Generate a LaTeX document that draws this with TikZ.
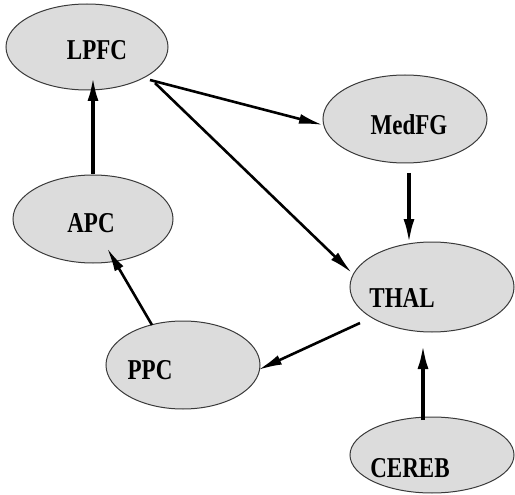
\documentclass[tikz,border=0pt]{standalone}
\usepackage{fontspec}
\usepackage{graphicx}
\setmainfont{Liberation Serif}
\usetikzlibrary{shapes.geometric,arrows.meta,calc}
\definecolor{nodefill}{HTML}{DCDCDC}
\definecolor{nodeline}{HTML}{3A3A3A}
\newcommand{\stretchtxt}[1]{\scalebox{1}[1.25]{#1}}
\tikzset{
  region/.style={ellipse, draw=nodeline, fill=nodefill, line width=1pt, inner sep=0pt},
  lbl/.style={font=\fontsize{23}{23}\selectfont\bfseries, inner sep=0pt, text=black},
  conn/.style={line width=2.6pt, -{Latex[length=24pt,width=10pt]}},
  vconn/.style={line width=3.4pt, -{Latex[length=24pt,width=11pt]}}
}
\begin{document}
\begin{tikzpicture}[x=1pt,y=-1pt]
\useasboundingbox (0,0) rectangle (515,495);
\node[region, minimum width=162pt, minimum height=86pt, label={[lbl, xshift=10pt, yshift=-3pt]center:\stretchtxt{LPFC}}] (LPFC) at (87,47) {};
\node[region, minimum width=160pt, minimum height=88pt, label={[lbl, xshift=-2pt, yshift=-4pt]center:\stretchtxt{APC}}] (APC) at (93,219) {};
\node[region, minimum width=164pt, minimum height=88pt, label={[lbl, xshift=4pt, yshift=-6pt]center:\stretchtxt{MedFG}}] (MedFG) at (405,119) {};
\node[region, minimum width=164pt, minimum height=90pt, label={[lbl, xshift=-30pt, yshift=-11pt]center:\stretchtxt{THAL}}] (THAL) at (432,287) {};
\node[region, minimum width=154pt, minimum height=88pt, label={[lbl, xshift=-33pt, yshift=-5pt]center:\stretchtxt{PPC}}] (PPC) at (183,365) {};
\node[region, minimum width=164pt, minimum height=76pt, label={[lbl, xshift=-22pt, yshift=-13pt]center:\stretchtxt{CEREB}}] (CEREB) at (432,455) {};

\draw[vconn] (APC.north) -- ($(LPFC.center)+(6,30)$);
\draw[conn] ($(LPFC.center)+(63,33)$) -- ($(MedFG.center)+(-82,6)$);
\draw[conn] ($(LPFC.center)+(68,36)$) -- ($(THAL.center)+(-80,-14)$);
\draw[vconn] ($(MedFG.center)+(4,54)$) -- ($(THAL.center)+(-23,-44)$);
\draw[conn] ($(THAL.center)+(-72,36)$) -- ($(PPC.center)+(75,5)$);
\draw[conn] ($(PPC.center)+(-31,-40)$) -- ($(APC.center)+(14,29)$);
\draw[vconn] ($(CEREB.center)+(-9,-35)$) -- ($(THAL.center)+(-9,58)$);
\end{tikzpicture}
\end{document}
